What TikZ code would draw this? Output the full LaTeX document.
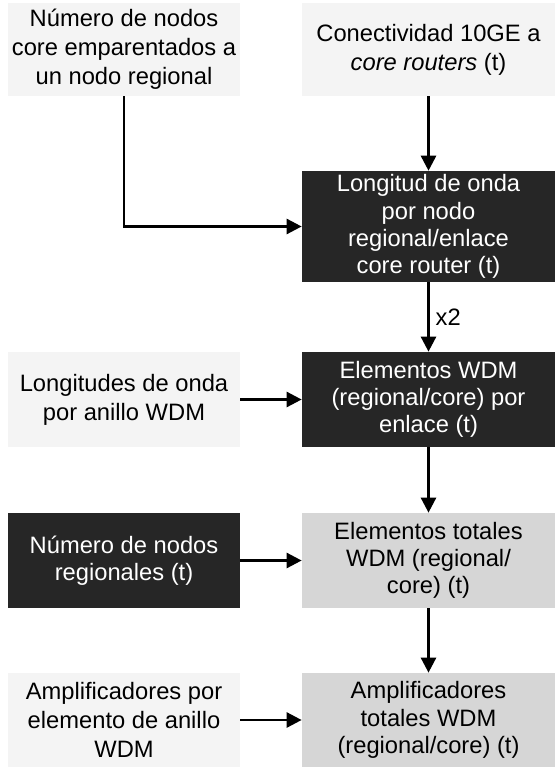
\documentclass[tikz,border=0pt]{standalone}
\usepackage{fontspec}
\setmainfont{Liberation Sans}
\usetikzlibrary{arrows.meta}

\tikzset{
	box/.style={rectangle, align=center, inner sep=2pt, font=\fontsize{13.5}{15.5}\selectfont},
	lightbox/.style={box, fill=gray!9, font=\fontsize{13.5}{16.5}\selectfont},
	midbox/.style={box, fill=gray!32},
	darkbox/.style={box, fill=black!85, text=white},
	leftcol/.style={minimum width=4.64cm, minimum height=1.9cm},
	rightcol/.style={minimum width=5.06cm, minimum height=1.9cm},
	flow/.style={black, line width=1.5pt, -{Triangle[length=0.3cm, width=0.3cm]}}
}

\begin{document}
\begin{tikzpicture}
	\useasboundingbox (0,0) rectangle (11.1,-15.34);

	% left column
	\node[lightbox, leftcol, minimum height=1.86cm] at (2.48,-0.99) (nodoscore)
	{Número de nodos\\core emparentados a\\un nodo regional};
	\node[lightbox, leftcol] at (2.48,-7.99) (ondaanillo)
	{Longitudes de onda\\por anillo WDM};
	\node[darkbox, leftcol] at (2.48,-11.21) (nodosreg)
	{Número de nodos\\regionales (t)};
	\node[lightbox, leftcol, minimum height=1.88cm] at (2.48,-14.4) (amplielem)
	{Amplificadores por\\elemento de anillo\\WDM};

	% right column
	\node[lightbox, rightcol, minimum height=1.86cm] at (8.57,-0.99) (conect)
	{Conectividad 10GE a\\\textit{core routers} (t)};
	\node[darkbox, rightcol] at (8.57,-4.53) (ondanodo)
	{Longitud de onda\\por nodo\\regional/enlace\\core router (t)};
	\node[darkbox, rightcol] at (8.57,-7.99) (elemwdm)
	{Elementos WDM\\(regional/core) por\\enlace (t)};
	\node[midbox, rightcol] at (8.57,-11.21) (elemtot)
	{Elementos totales\\WDM (regional/\\core) (t)};
	\node[midbox, rightcol, minimum height=1.88cm] at (8.57,-14.4) (amplitot)
	{Amplificadores\\totales WDM\\(regional/core) (t)};

	% connections
	\draw[flow] (nodoscore.south) |- (ondanodo.west);
	\draw[flow] (conect) -- (ondanodo);
	\draw[flow] (ondanodo) -- node[right, font=\fontsize{13.5}{15.5}\selectfont] (xdos) {x2} (elemwdm);
	\draw[flow] (ondaanillo) -- (elemwdm);
	\draw[flow] (elemwdm) -- (elemtot);
	\draw[flow] (nodosreg) -- (elemtot);
	\draw[flow] (elemtot) -- (amplitot);
	\draw[flow] (amplielem) -- (amplitot);
\end{tikzpicture}
\end{document}
